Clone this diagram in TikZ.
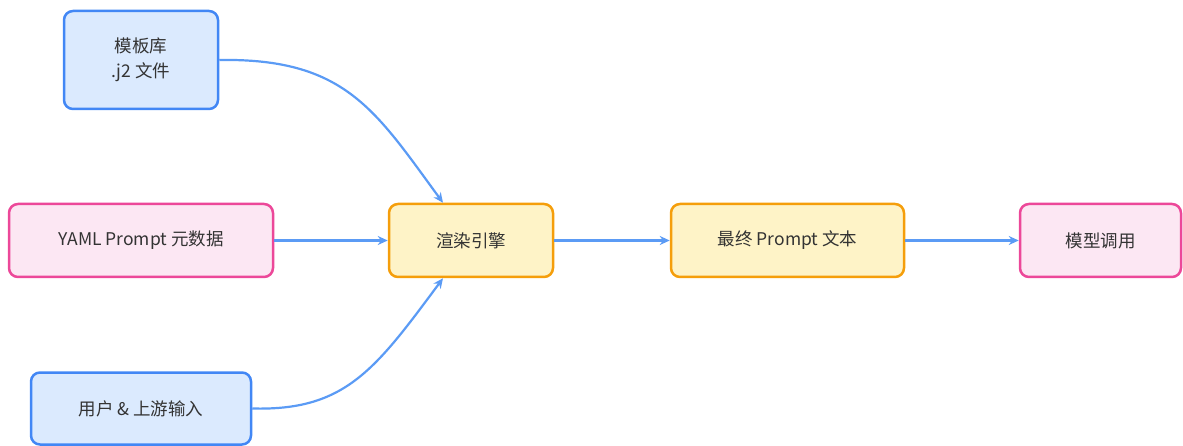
\documentclass[tikz,border=0pt]{standalone}
\usepackage{fontspec}
\setmainfont{Noto Sans CJK SC}
\usetikzlibrary{arrows.meta}
\definecolor{bstroke}{HTML}{4287F5}
\definecolor{bfill}{HTML}{DBEAFE}
\definecolor{pstroke}{HTML}{EC4899}
\definecolor{pfill}{HTML}{FCE7F3}
\definecolor{ostroke}{HTML}{F59E0B}
\definecolor{ofill}{HTML}{FEF3C7}
\definecolor{edge}{HTML}{5B9BF5}
\definecolor{txt}{HTML}{333333}
\tikzset{
  box/.style={draw, line width=2.5pt, rounded corners=9pt, inner sep=0pt, align=center,
    font=\fontsize{17.5}{25}\selectfont, text=txt},
  bluebox/.style={box, draw=bstroke, fill=bfill},
  pinkbox/.style={box, draw=pstroke, fill=pfill},
  orangebox/.style={box, draw=ostroke, fill=ofill},
  conn/.style={draw=edge, line width=2.2pt, -{Stealth[length=10pt,width=9pt]}}
}
\begin{document}
\begin{tikzpicture}[x=1pt,y=-1pt]
\useasboundingbox (0,0) rectangle (1183,446);
\node[bluebox, minimum width=154pt, minimum height=98pt] (tpl) at (141,60) {模板库\\.j2 文件};
\node[pinkbox, minimum width=264pt, minimum height=73pt] (yaml) at (141,240.5) {YAML Prompt 元数据};
\node[bluebox, minimum width=220pt, minimum height=72pt] (user) at (141,408.5) {用户 \& 上游输入};
\node[orangebox, minimum width=164pt, minimum height=73pt] (eng) at (471,240.5) {渲染引擎};
\node[orangebox, minimum width=233pt, minimum height=73pt] (fin) at (787.5,240.5) {最终 Prompt 文本};
\node[pinkbox, minimum width=161pt, minimum height=73pt] (call) at (1100.5,240.5) {模型调用};
\draw[conn] (tpl.east) .. controls (345,58) and (375,110) .. ([xshift=-28pt]eng.north);
\draw[conn] (user.east) .. controls (345,411) and (375,370) .. ([xshift=-28pt]eng.south);
\draw[conn] (yaml) -- (eng);
\draw[conn] (eng) -- (fin);
\draw[conn] (fin) -- (call);
\end{tikzpicture}
\end{document}
